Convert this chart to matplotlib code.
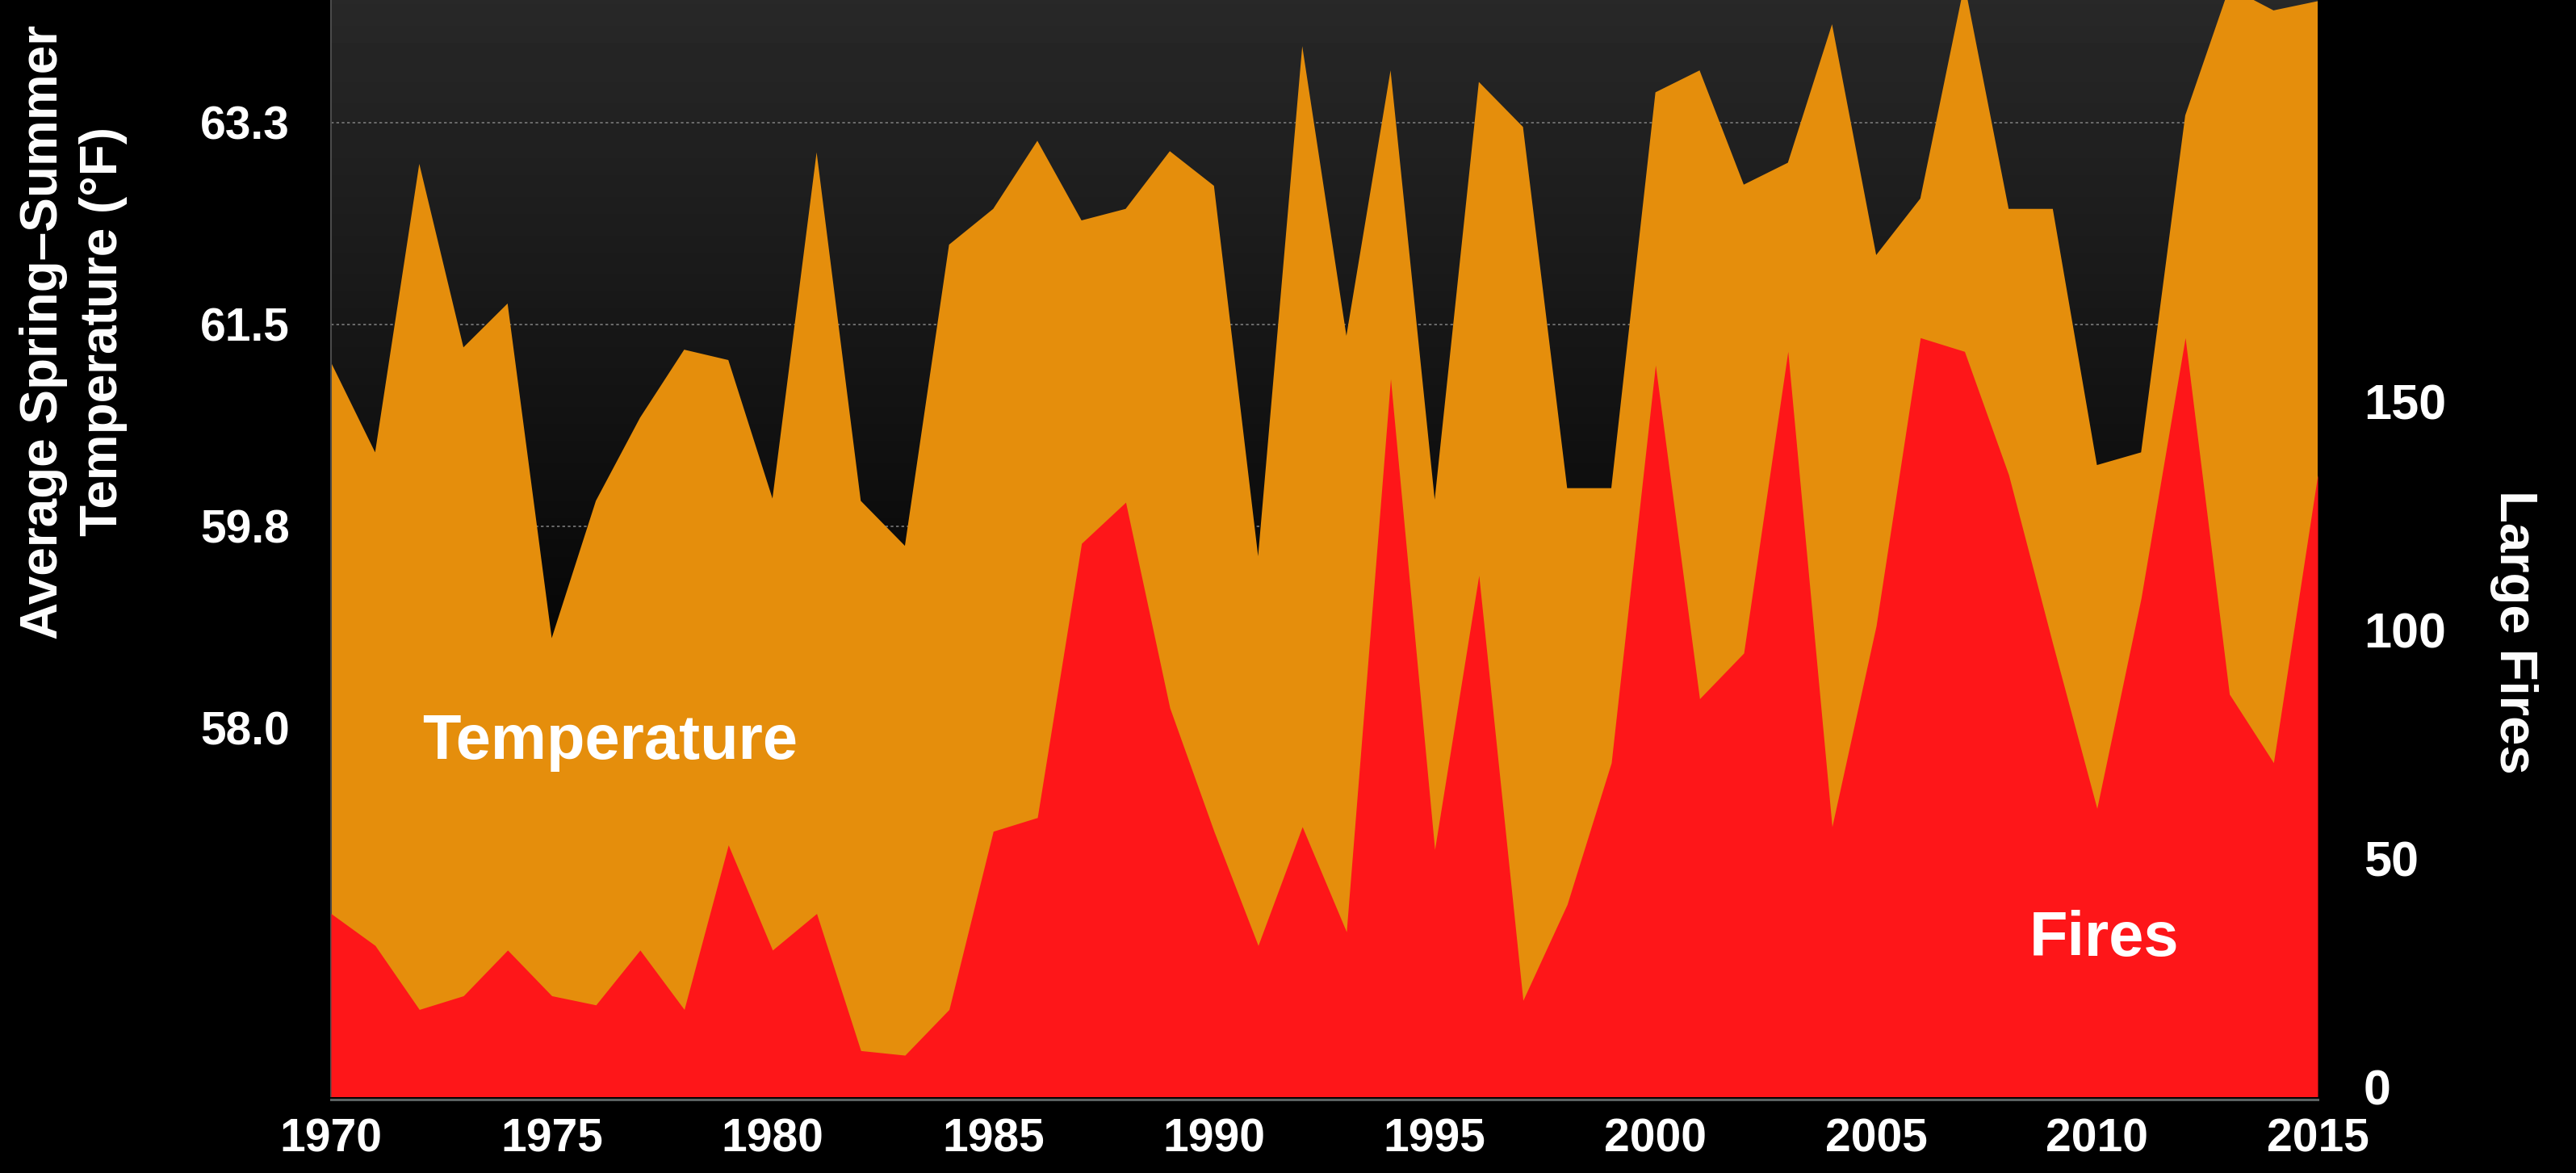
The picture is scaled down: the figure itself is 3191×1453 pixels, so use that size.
import numpy as np
import matplotlib
matplotlib.use("Agg")
import matplotlib.pyplot as plt
from matplotlib import font_manager

# data
years = list(range(1970, 2016))
temperature = [61.17, 60.39, 62.89, 61.30, 61.68, 58.78, 59.97, 60.69, 61.28, 61.19,
               59.99, 62.99, 59.97, 59.58, 62.19, 62.50, 63.09, 62.40, 62.50, 63.00,
               62.70, 59.49, 63.91, 61.40, 63.70, 59.98, 63.60, 63.21, 60.08, 60.08,
               63.51, 63.70, 62.71, 62.90, 64.10, 62.10, 62.59, 64.45, 62.50, 62.50,
               60.28, 60.39, 63.31, 64.42, 64.22, 64.30]
fires = [38, 31, 17, 20, 30, 20, 18, 30, 17, 53,
         30, 38, 8, 7, 17, 56, 59, 119, 128, 83,
         56, 31, 57, 34, 155, 52, 112, 19, 40, 71,
         158, 85, 95, 161, 57, 101, 164, 161, 134, 97,
         61, 107, 164, 86, 71, 134]

temp_ticks = [58.0, 59.75, 61.5, 63.25]
temp_labels = ["58.0", "59.8", "61.5", "63.3"]
fire_ticks = [0, 50, 100, 150]
year_ticks = list(range(1970, 2016, 5))

ORANGE = "#E58E0C"
RED = "#FE1619"

names = {f.name for f in font_manager.fontManager.ttflist}
base_font = "Liberation Sans" if "Liberation Sans" in names else "DejaVu Sans"
plt.rcParams["font.family"] = [base_font, "DejaVu Sans"]
plt.rcParams["font.weight"] = "bold"

W, H = 3191, 1453
fig = plt.figure(figsize=(W / 100, H / 100), dpi=100, facecolor="black")
left, right, bottom, top = 410, 2871, 1358, 0
ax = fig.add_axes([left / W, (H - bottom) / H, (right - left) / W, (bottom - top) / H])
ax.set_facecolor("black")

# dark grey to black gradient behind the areas
grad = np.clip(0.157 * (1 - np.linspace(0, 1, 256) / 0.70), 0, None)
ax.imshow(np.repeat(grad[:, None], 2, axis=1), cmap="gray", vmin=0, vmax=1,
          extent=[0, 1, 0, 1], transform=ax.transAxes, aspect="auto", zorder=0)

ax.fill_between(years, temperature, 50, color=ORANGE, lw=0, zorder=2)
ax.set_xlim(1970, 2015)
ax.set_ylim(54.81, 64.31)
ax.set_yticks(temp_ticks, labels=temp_labels)
ax.set_xticks(year_ticks)
ax.yaxis.grid(True, color="#7a7a7a", lw=1.2, ls=(0, (2, 2)), zorder=1)
ax.set_axisbelow(True)

ax2 = ax.twinx()
ax2.fill_between(years, fires, -10, color=RED, lw=0)
ax2.set_ylim(-2.0, 237.9)
ax2.set_yticks(fire_ticks)

for a in (ax, ax2):
    for s in a.spines.values():
        s.set_visible(False)
ax.spines["bottom"].set_visible(True)
ax.spines["bottom"].set_color("#5c6262")
ax.spines["bottom"].set_linewidth(2.2)
ax.spines["bottom"].set_position(("outward", 3))
ax.spines["left"].set_visible(True)
ax.spines["left"].set_color("#4a4a4a")
ax.spines["left"].set_linewidth(1.5)

ax.tick_params(axis="y", length=0, colors="white", labelsize=41, pad=37)
ax.tick_params(axis="x", length=0, colors="white", labelsize=41, pad=16)
ax2.tick_params(axis="y", length=0, colors="white", labelsize=44, pad=41)

fig.text(91 / W, 1 - 411 / H, "Average Spring\u2013Summer\nTemperature (\u00b0F)",
         rotation=90, ha="center", va="center", multialignment="center",
         fontsize=46, color="white", linespacing=1.3)
fig.text(3114 / W, 1 - 783 / H, "Large Fires", rotation=270, ha="center",
         va="center", fontsize=47, color="white")
fig.text(756 / W, 1 - 940 / H, "Temperature", ha="center", va="baseline",
         fontsize=56, color="white")
fig.text(2607 / W, 1 - 1184 / H, "Fires", ha="center", va="baseline",
         fontsize=56, color="white")

fig.savefig("out.png", dpi=100, facecolor="black")
